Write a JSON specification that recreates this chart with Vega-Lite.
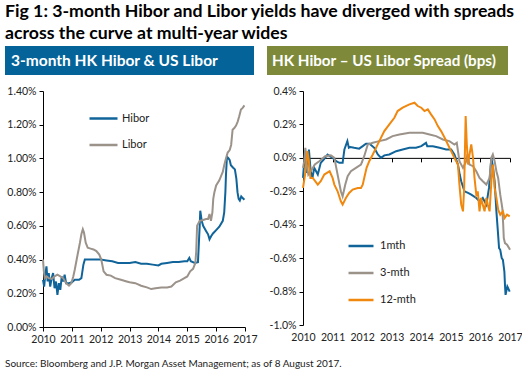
{
  "$schema": "https://vega.github.io/schema/vega-lite/v6.json",
  "padding": {"left": 5, "top": 3, "right": 4, "bottom": 2},
  "background": "white",
  "config": {
    "font": "Lato",
    "view": {"stroke": null},
    "axis": {"labelFont": "Lato", "labelFontSize": 10.5, "labelColor": "#222", "domainColor": "#000", "tickColor": "#000", "grid": false, "title": null, "tickSize": 4, "labelPadding": 3, "labelOverlap": false},
    "legend": {"labelFont": "Lato", "labelFontSize": 11, "labelColor": "#222"}
  },
  "title": {
    "text": ["Fig 1: 3-month Hibor and Libor yields have diverged with spreads", "across the curve at multi-year wides"],
    "anchor": "start", "frame": "bounds", "font": "Lato", "fontSize": 17.7, "fontWeight": "bold", "color": "#000", "lineHeight": 22, "offset": 3
  },
  "spacing": 14,
  "vconcat": [
    {
      "spacing": 11,
      "vconcat": [
        {
          "spacing": 13,
          "resolve": {"scale": {"x": "independent"}},
          "hconcat": [
            {
              "width": 211, "height": 29,
              "data": {"values": [{"label": "3-month HK Hibor & US Libor"}]},
              "layer": [
                {
                  "mark": {"type": "rect", "color": "#04649a"},
                  "encoding": {
                    "x": {"datum": -38, "type": "quantitative", "scale": {"domain": [0, 211], "nice": false, "zero": false}, "axis": null},
                    "x2": {"datum": 211},
                    "y": {"datum": 0, "type": "quantitative", "scale": {"domain": [0, 1], "nice": false}, "axis": null},
                    "y2": {"datum": 1}
                  }
                },
                {
                  "mark": {"type": "text", "align": "left", "baseline": "middle", "color": "white", "fontSize": 15.5, "fontWeight": "bold", "dx": 6},
                  "encoding": {
                    "x": {"datum": -38, "type": "quantitative"},
                    "y": {"datum": 0.5, "type": "quantitative"},
                    "text": {"field": "label"}
                  }
                }
              ]
            },
            {
              "width": 207, "height": 29,
              "data": {"values": [{"label": "HK Hibor – US Libor Spread (bps)"}]},
              "layer": [
                {
                  "mark": {"type": "rect", "color": "#7e8a3a"},
                  "encoding": {
                    "x": {"datum": -34, "type": "quantitative", "scale": {"domain": [0, 207], "nice": false, "zero": false}, "axis": null},
                    "x2": {"datum": 207},
                    "y": {"datum": 0, "type": "quantitative", "scale": {"domain": [0, 1], "nice": false}, "axis": null},
                    "y2": {"datum": 1}
                  }
                },
                {
                  "mark": {"type": "text", "align": "left", "baseline": "middle", "color": "white", "fontSize": 15.2, "fontWeight": "bold", "dx": 5},
                  "encoding": {
                    "x": {"datum": -34, "type": "quantitative"},
                    "y": {"datum": 0.5, "type": "quantitative"},
                    "text": {"field": "label"}
                  }
                }
              ]
            }
          ]
        },
        {
          "spacing": 11,
          "resolve": {"scale": {"color": "independent", "y": "independent", "x": "independent"}},
          "hconcat": [
            {
              "width": 202, "height": 236,
              "data": {"values": [
                {"t": 2010.0, "v": 0.28, "s": "Hibor"}, {"t": 2010.04, "v": 0.24, "s": "Hibor"}, {"t": 2010.08, "v": 0.31, "s": "Hibor"}, {"t": 2010.12, "v": 0.36, "s": "Hibor"}, {"t": 2010.16, "v": 0.27, "s": "Hibor"}, {"t": 2010.2, "v": 0.32, "s": "Hibor"}, {"t": 2010.25, "v": 0.24, "s": "Hibor"}, {"t": 2010.3, "v": 0.29, "s": "Hibor"}, {"t": 2010.35, "v": 0.32, "s": "Hibor"}, {"t": 2010.4, "v": 0.23, "s": "Hibor"}, {"t": 2010.45, "v": 0.27, "s": "Hibor"}, {"t": 2010.5, "v": 0.19, "s": "Hibor"}, {"t": 2010.55, "v": 0.26, "s": "Hibor"}, {"t": 2010.6, "v": 0.22, "s": "Hibor"}, {"t": 2010.65, "v": 0.3, "s": "Hibor"}, {"t": 2010.7, "v": 0.27, "s": "Hibor"}, {"t": 2010.75, "v": 0.31, "s": "Hibor"}, {"t": 2010.8, "v": 0.26, "s": "Hibor"}, {"t": 2010.9, "v": 0.26, "s": "Hibor"}, {"t": 2011.0, "v": 0.265, "s": "Hibor"}, {"t": 2011.1, "v": 0.28, "s": "Hibor"}, {"t": 2011.25, "v": 0.28, "s": "Hibor"}, {"t": 2011.33, "v": 0.29, "s": "Hibor"}, {"t": 2011.4, "v": 0.37, "s": "Hibor"}, {"t": 2011.45, "v": 0.4, "s": "Hibor"}, {"t": 2011.6, "v": 0.4, "s": "Hibor"}, {"t": 2011.8, "v": 0.4, "s": "Hibor"}, {"t": 2012.0, "v": 0.4, "s": "Hibor"}, {"t": 2012.2, "v": 0.395, "s": "Hibor"}, {"t": 2012.4, "v": 0.39, "s": "Hibor"}, {"t": 2012.6, "v": 0.38, "s": "Hibor"}, {"t": 2012.8, "v": 0.38, "s": "Hibor"}, {"t": 2013.0, "v": 0.38, "s": "Hibor"}, {"t": 2013.2, "v": 0.385, "s": "Hibor"}, {"t": 2013.4, "v": 0.375, "s": "Hibor"}, {"t": 2013.6, "v": 0.375, "s": "Hibor"}, {"t": 2013.8, "v": 0.37, "s": "Hibor"}, {"t": 2014.0, "v": 0.365, "s": "Hibor"}, {"t": 2014.1, "v": 0.375, "s": "Hibor"}, {"t": 2014.3, "v": 0.38, "s": "Hibor"}, {"t": 2014.5, "v": 0.385, "s": "Hibor"}, {"t": 2014.7, "v": 0.385, "s": "Hibor"}, {"t": 2014.9, "v": 0.39, "s": "Hibor"}, {"t": 2015.0, "v": 0.39, "s": "Hibor"}, {"t": 2015.07, "v": 0.41, "s": "Hibor"}, {"t": 2015.12, "v": 0.39, "s": "Hibor"}, {"t": 2015.26, "v": 0.38, "s": "Hibor"}, {"t": 2015.37, "v": 0.385, "s": "Hibor"}, {"t": 2015.43, "v": 0.6, "s": "Hibor"}, {"t": 2015.45, "v": 0.69, "s": "Hibor"}, {"t": 2015.5, "v": 0.63, "s": "Hibor"}, {"t": 2015.55, "v": 0.6, "s": "Hibor"}, {"t": 2015.65, "v": 0.57, "s": "Hibor"}, {"t": 2015.72, "v": 0.55, "s": "Hibor"}, {"t": 2015.77, "v": 0.52, "s": "Hibor"}, {"t": 2015.83, "v": 0.54, "s": "Hibor"}, {"t": 2015.89, "v": 0.555, "s": "Hibor"}, {"t": 2016.0, "v": 0.575, "s": "Hibor"}, {"t": 2016.11, "v": 0.595, "s": "Hibor"}, {"t": 2016.23, "v": 0.63, "s": "Hibor"}, {"t": 2016.28, "v": 0.68, "s": "Hibor"}, {"t": 2016.32, "v": 0.8, "s": "Hibor"}, {"t": 2016.34, "v": 0.9, "s": "Hibor"}, {"t": 2016.375, "v": 1.01, "s": "Hibor"}, {"t": 2016.43, "v": 1.0, "s": "Hibor"}, {"t": 2016.47, "v": 0.99, "s": "Hibor"}, {"t": 2016.51, "v": 0.96, "s": "Hibor"}, {"t": 2016.59, "v": 0.945, "s": "Hibor"}, {"t": 2016.65, "v": 0.935, "s": "Hibor"}, {"t": 2016.7, "v": 0.88, "s": "Hibor"}, {"t": 2016.74, "v": 0.8, "s": "Hibor"}, {"t": 2016.78, "v": 0.76, "s": "Hibor"}, {"t": 2016.82, "v": 0.75, "s": "Hibor"}, {"t": 2016.87, "v": 0.775, "s": "Hibor"}, {"t": 2016.92, "v": 0.765, "s": "Hibor"}, {"t": 2016.98, "v": 0.755, "s": "Hibor"},
                {"t": 2010.0, "v": 0.4, "s": "Libor"}, {"t": 2010.03, "v": 0.33, "s": "Libor"}, {"t": 2010.06, "v": 0.29, "s": "Libor"}, {"t": 2010.12, "v": 0.3, "s": "Libor"}, {"t": 2010.2, "v": 0.29, "s": "Libor"}, {"t": 2010.3, "v": 0.285, "s": "Libor"}, {"t": 2010.4, "v": 0.3, "s": "Libor"}, {"t": 2010.5, "v": 0.31, "s": "Libor"}, {"t": 2010.6, "v": 0.3, "s": "Libor"}, {"t": 2010.7, "v": 0.29, "s": "Libor"}, {"t": 2010.8, "v": 0.26, "s": "Libor"}, {"t": 2010.9, "v": 0.245, "s": "Libor"}, {"t": 2010.98, "v": 0.26, "s": "Libor"}, {"t": 2011.05, "v": 0.3, "s": "Libor"}, {"t": 2011.1, "v": 0.34, "s": "Libor"}, {"t": 2011.2, "v": 0.43, "s": "Libor"}, {"t": 2011.28, "v": 0.5, "s": "Libor"}, {"t": 2011.33, "v": 0.55, "s": "Libor"}, {"t": 2011.38, "v": 0.58, "s": "Libor"}, {"t": 2011.42, "v": 0.56, "s": "Libor"}, {"t": 2011.48, "v": 0.5, "s": "Libor"}, {"t": 2011.55, "v": 0.47, "s": "Libor"}, {"t": 2011.65, "v": 0.465, "s": "Libor"}, {"t": 2011.75, "v": 0.46, "s": "Libor"}, {"t": 2011.85, "v": 0.45, "s": "Libor"}, {"t": 2011.95, "v": 0.43, "s": "Libor"}, {"t": 2012.02, "v": 0.4, "s": "Libor"}, {"t": 2012.1, "v": 0.33, "s": "Libor"}, {"t": 2012.2, "v": 0.31, "s": "Libor"}, {"t": 2012.35, "v": 0.305, "s": "Libor"}, {"t": 2012.5, "v": 0.29, "s": "Libor"}, {"t": 2012.7, "v": 0.28, "s": "Libor"}, {"t": 2012.9, "v": 0.27, "s": "Libor"}, {"t": 2013.0, "v": 0.265, "s": "Libor"}, {"t": 2013.2, "v": 0.26, "s": "Libor"}, {"t": 2013.4, "v": 0.245, "s": "Libor"}, {"t": 2013.6, "v": 0.235, "s": "Libor"}, {"t": 2013.75, "v": 0.225, "s": "Libor"}, {"t": 2013.9, "v": 0.23, "s": "Libor"}, {"t": 2014.1, "v": 0.235, "s": "Libor"}, {"t": 2014.3, "v": 0.235, "s": "Libor"}, {"t": 2014.45, "v": 0.24, "s": "Libor"}, {"t": 2014.6, "v": 0.265, "s": "Libor"}, {"t": 2014.75, "v": 0.275, "s": "Libor"}, {"t": 2014.9, "v": 0.29, "s": "Libor"}, {"t": 2015.0, "v": 0.3, "s": "Libor"}, {"t": 2015.1, "v": 0.33, "s": "Libor"}, {"t": 2015.2, "v": 0.345, "s": "Libor"}, {"t": 2015.28, "v": 0.38, "s": "Libor"}, {"t": 2015.31, "v": 0.45, "s": "Libor"}, {"t": 2015.34, "v": 0.6, "s": "Libor"}, {"t": 2015.43, "v": 0.63, "s": "Libor"}, {"t": 2015.55, "v": 0.635, "s": "Libor"}, {"t": 2015.65, "v": 0.64, "s": "Libor"}, {"t": 2015.72, "v": 0.64, "s": "Libor"}, {"t": 2015.77, "v": 0.67, "s": "Libor"}, {"t": 2015.82, "v": 0.63, "s": "Libor"}, {"t": 2015.87, "v": 0.68, "s": "Libor"}, {"t": 2015.9, "v": 0.76, "s": "Libor"}, {"t": 2015.94, "v": 0.8, "s": "Libor"}, {"t": 2016.0, "v": 0.84, "s": "Libor"}, {"t": 2016.11, "v": 0.87, "s": "Libor"}, {"t": 2016.18, "v": 0.9, "s": "Libor"}, {"t": 2016.23, "v": 0.92, "s": "Libor"}, {"t": 2016.28, "v": 0.96, "s": "Libor"}, {"t": 2016.34, "v": 1.0, "s": "Libor"}, {"t": 2016.4, "v": 1.035, "s": "Libor"}, {"t": 2016.47, "v": 1.05, "s": "Libor"}, {"t": 2016.52, "v": 1.08, "s": "Libor"}, {"t": 2016.57, "v": 1.17, "s": "Libor"}, {"t": 2016.63, "v": 1.18, "s": "Libor"}, {"t": 2016.69, "v": 1.195, "s": "Libor"}, {"t": 2016.75, "v": 1.22, "s": "Libor"}, {"t": 2016.8, "v": 1.25, "s": "Libor"}, {"t": 2016.86, "v": 1.29, "s": "Libor"}, {"t": 2016.92, "v": 1.3, "s": "Libor"}, {"t": 2016.98, "v": 1.315, "s": "Libor"}
              ]},
              "mark": {"type": "line", "strokeWidth": 2},
              "encoding": {
                "x": {"field": "t", "type": "quantitative", "scale": {"domain": [2010, 2017], "nice": false, "zero": false},
                      "axis": {"values": [2010, 2011, 2012, 2013, 2014, 2015, 2016, 2017], "format": "d", "labelFlush": false}},
                "y": {"field": "v", "type": "quantitative", "scale": {"domain": [0, 1.4], "nice": false},
                      "axis": {"values": [0, 0.2, 0.4, 0.6, 0.8, 1.0, 1.2, 1.4], "labelExpr": "format(datum.value / 100, '.2%')", "minExtent": 38}},
                "color": {"field": "s", "type": "nominal",
                          "scale": {"domain": ["Hibor", "Libor"], "range": ["#10649a", "#9b928a"]},
                          "legend": {"orient": "none", "legendX": 45, "legendY": 12, "title": null, "symbolType": "stroke", "symbolSize": 784, "symbolStrokeWidth": 2.5, "rowPadding": 5.5, "labelOffset": 3}}
              }
            },
            {
              "width": 207, "height": 234,
              "data": {"values": [
                {"t": 2010.0, "v": -0.12, "s": "1mth"}, {"t": 2010.03, "v": -0.05, "s": "1mth"}, {"t": 2010.08, "v": 0.02, "s": "1mth"}, {"t": 2010.12, "v": -0.09, "s": "1mth"}, {"t": 2010.17, "v": -0.03, "s": "1mth"}, {"t": 2010.2, "v": 0.05, "s": "1mth"}, {"t": 2010.26, "v": -0.08, "s": "1mth"}, {"t": 2010.32, "v": -0.12, "s": "1mth"}, {"t": 2010.38, "v": -0.06, "s": "1mth"}, {"t": 2010.5, "v": -0.1, "s": "1mth"}, {"t": 2010.6, "v": -0.03, "s": "1mth"}, {"t": 2010.7, "v": -0.01, "s": "1mth"}, {"t": 2010.83, "v": 0.02, "s": "1mth"}, {"t": 2011.0, "v": 0.0, "s": "1mth"}, {"t": 2011.12, "v": -0.02, "s": "1mth"}, {"t": 2011.23, "v": -0.03, "s": "1mth"}, {"t": 2011.34, "v": -0.03, "s": "1mth"}, {"t": 2011.4, "v": 0.05, "s": "1mth"}, {"t": 2011.5, "v": 0.1, "s": "1mth"}, {"t": 2011.55, "v": 0.06, "s": "1mth"}, {"t": 2011.6, "v": 0.065, "s": "1mth"}, {"t": 2011.73, "v": 0.06, "s": "1mth"}, {"t": 2011.9, "v": 0.055, "s": "1mth"}, {"t": 2012.02, "v": 0.07, "s": "1mth"}, {"t": 2012.13, "v": 0.085, "s": "1mth"}, {"t": 2012.25, "v": 0.085, "s": "1mth"}, {"t": 2012.41, "v": 0.06, "s": "1mth"}, {"t": 2012.53, "v": 0.02, "s": "1mth"}, {"t": 2012.64, "v": 0.0, "s": "1mth"}, {"t": 2012.75, "v": 0.015, "s": "1mth"}, {"t": 2012.92, "v": 0.02, "s": "1mth"}, {"t": 2013.15, "v": 0.04, "s": "1mth"}, {"t": 2013.37, "v": 0.05, "s": "1mth"}, {"t": 2013.6, "v": 0.06, "s": "1mth"}, {"t": 2013.82, "v": 0.06, "s": "1mth"}, {"t": 2014.0, "v": 0.07, "s": "1mth"}, {"t": 2014.16, "v": 0.09, "s": "1mth"}, {"t": 2014.2, "v": 0.07, "s": "1mth"}, {"t": 2014.39, "v": 0.07, "s": "1mth"}, {"t": 2014.62, "v": 0.06, "s": "1mth"}, {"t": 2014.84, "v": 0.05, "s": "1mth"}, {"t": 2015.01, "v": 0.05, "s": "1mth"}, {"t": 2015.12, "v": 0.02, "s": "1mth"}, {"t": 2015.24, "v": -0.04, "s": "1mth"}, {"t": 2015.3, "v": -0.1, "s": "1mth"}, {"t": 2015.35, "v": -0.14, "s": "1mth"}, {"t": 2015.46, "v": -0.2, "s": "1mth"}, {"t": 2015.58, "v": -0.21, "s": "1mth"}, {"t": 2015.69, "v": -0.22, "s": "1mth"}, {"t": 2015.86, "v": -0.24, "s": "1mth"}, {"t": 2015.97, "v": -0.26, "s": "1mth"}, {"t": 2016.08, "v": -0.24, "s": "1mth"}, {"t": 2016.2, "v": -0.28, "s": "1mth"}, {"t": 2016.29, "v": -0.18, "s": "1mth"}, {"t": 2016.37, "v": 0.0, "s": "1mth"}, {"t": 2016.42, "v": -0.05, "s": "1mth"}, {"t": 2016.48, "v": -0.14, "s": "1mth"}, {"t": 2016.54, "v": -0.32, "s": "1mth"}, {"t": 2016.59, "v": -0.44, "s": "1mth"}, {"t": 2016.63, "v": -0.54, "s": "1mth"}, {"t": 2016.67, "v": -0.55, "s": "1mth"}, {"t": 2016.72, "v": -0.6, "s": "1mth"}, {"t": 2016.76, "v": -0.61, "s": "1mth"}, {"t": 2016.81, "v": -0.68, "s": "1mth"}, {"t": 2016.83, "v": -0.76, "s": "1mth"}, {"t": 2016.85, "v": -0.82, "s": "1mth"}, {"t": 2016.91, "v": -0.77, "s": "1mth"}, {"t": 2016.99, "v": -0.8, "s": "1mth"},
                {"t": 2010.0, "v": -0.06, "s": "3-mth"}, {"t": 2010.04, "v": -0.02, "s": "3-mth"}, {"t": 2010.08, "v": 0.06, "s": "3-mth"}, {"t": 2010.13, "v": -0.04, "s": "3-mth"}, {"t": 2010.18, "v": -0.1, "s": "3-mth"}, {"t": 2010.3, "v": -0.07, "s": "3-mth"}, {"t": 2010.4, "v": -0.04, "s": "3-mth"}, {"t": 2010.55, "v": -0.02, "s": "3-mth"}, {"t": 2010.75, "v": 0.01, "s": "3-mth"}, {"t": 2010.94, "v": 0.015, "s": "3-mth"}, {"t": 2011.06, "v": 0.0, "s": "3-mth"}, {"t": 2011.17, "v": -0.1, "s": "3-mth"}, {"t": 2011.28, "v": -0.2, "s": "3-mth"}, {"t": 2011.34, "v": -0.23, "s": "3-mth"}, {"t": 2011.43, "v": -0.16, "s": "3-mth"}, {"t": 2011.51, "v": -0.11, "s": "3-mth"}, {"t": 2011.62, "v": -0.08, "s": "3-mth"}, {"t": 2011.79, "v": -0.06, "s": "3-mth"}, {"t": 2011.96, "v": -0.04, "s": "3-mth"}, {"t": 2012.07, "v": 0.01, "s": "3-mth"}, {"t": 2012.19, "v": 0.08, "s": "3-mth"}, {"t": 2012.36, "v": 0.09, "s": "3-mth"}, {"t": 2012.58, "v": 0.1, "s": "3-mth"}, {"t": 2012.81, "v": 0.11, "s": "3-mth"}, {"t": 2013.03, "v": 0.13, "s": "3-mth"}, {"t": 2013.26, "v": 0.14, "s": "3-mth"}, {"t": 2013.6, "v": 0.15, "s": "3-mth"}, {"t": 2013.82, "v": 0.15, "s": "3-mth"}, {"t": 2014.05, "v": 0.15, "s": "3-mth"}, {"t": 2014.28, "v": 0.14, "s": "3-mth"}, {"t": 2014.5, "v": 0.13, "s": "3-mth"}, {"t": 2014.73, "v": 0.11, "s": "3-mth"}, {"t": 2014.95, "v": 0.1, "s": "3-mth"}, {"t": 2015.12, "v": 0.08, "s": "3-mth"}, {"t": 2015.2, "v": 0.09, "s": "3-mth"}, {"t": 2015.29, "v": -0.02, "s": "3-mth"}, {"t": 2015.41, "v": -0.06, "s": "3-mth"}, {"t": 2015.52, "v": -0.02, "s": "3-mth"}, {"t": 2015.56, "v": 0.02, "s": "3-mth"}, {"t": 2015.63, "v": -0.04, "s": "3-mth"}, {"t": 2015.75, "v": -0.05, "s": "3-mth"}, {"t": 2015.86, "v": -0.08, "s": "3-mth"}, {"t": 2015.97, "v": -0.12, "s": "3-mth"}, {"t": 2016.08, "v": -0.14, "s": "3-mth"}, {"t": 2016.2, "v": -0.16, "s": "3-mth"}, {"t": 2016.31, "v": -0.12, "s": "3-mth"}, {"t": 2016.37, "v": 0.0, "s": "3-mth"}, {"t": 2016.42, "v": 0.02, "s": "3-mth"}, {"t": 2016.48, "v": -0.02, "s": "3-mth"}, {"t": 2016.54, "v": -0.08, "s": "3-mth"}, {"t": 2016.6, "v": -0.12, "s": "3-mth"}, {"t": 2016.67, "v": -0.22, "s": "3-mth"}, {"t": 2016.74, "v": -0.3, "s": "3-mth"}, {"t": 2016.77, "v": -0.4, "s": "3-mth"}, {"t": 2016.79, "v": -0.48, "s": "3-mth"}, {"t": 2016.83, "v": -0.51, "s": "3-mth"}, {"t": 2016.9, "v": -0.52, "s": "3-mth"}, {"t": 2016.97, "v": -0.54, "s": "3-mth"}, {"t": 2017.0, "v": -0.55, "s": "3-mth"},
                {"t": 2010.0, "v": -0.18, "s": "12-mth"}, {"t": 2010.07, "v": -0.1, "s": "12-mth"}, {"t": 2010.15, "v": 0.04, "s": "12-mth"}, {"t": 2010.2, "v": -0.02, "s": "12-mth"}, {"t": 2010.25, "v": -0.12, "s": "12-mth"}, {"t": 2010.33, "v": -0.12, "s": "12-mth"}, {"t": 2010.5, "v": -0.16, "s": "12-mth"}, {"t": 2010.6, "v": -0.14, "s": "12-mth"}, {"t": 2010.72, "v": -0.1, "s": "12-mth"}, {"t": 2010.9, "v": -0.08, "s": "12-mth"}, {"t": 2011.0, "v": -0.12, "s": "12-mth"}, {"t": 2011.06, "v": -0.16, "s": "12-mth"}, {"t": 2011.17, "v": -0.2, "s": "12-mth"}, {"t": 2011.28, "v": -0.26, "s": "12-mth"}, {"t": 2011.34, "v": -0.28, "s": "12-mth"}, {"t": 2011.45, "v": -0.24, "s": "12-mth"}, {"t": 2011.56, "v": -0.21, "s": "12-mth"}, {"t": 2011.68, "v": -0.19, "s": "12-mth"}, {"t": 2011.85, "v": -0.18, "s": "12-mth"}, {"t": 2011.96, "v": -0.18, "s": "12-mth"}, {"t": 2012.02, "v": -0.16, "s": "12-mth"}, {"t": 2012.07, "v": -0.12, "s": "12-mth"}, {"t": 2012.15, "v": -0.06, "s": "12-mth"}, {"t": 2012.24, "v": -0.02, "s": "12-mth"}, {"t": 2012.36, "v": 0.02, "s": "12-mth"}, {"t": 2012.47, "v": 0.06, "s": "12-mth"}, {"t": 2012.58, "v": 0.1, "s": "12-mth"}, {"t": 2012.75, "v": 0.16, "s": "12-mth"}, {"t": 2012.92, "v": 0.2, "s": "12-mth"}, {"t": 2013.09, "v": 0.24, "s": "12-mth"}, {"t": 2013.2, "v": 0.28, "s": "12-mth"}, {"t": 2013.37, "v": 0.3, "s": "12-mth"}, {"t": 2013.6, "v": 0.32, "s": "12-mth"}, {"t": 2013.77, "v": 0.33, "s": "12-mth"}, {"t": 2013.88, "v": 0.31, "s": "12-mth"}, {"t": 2014.0, "v": 0.3, "s": "12-mth"}, {"t": 2014.11, "v": 0.28, "s": "12-mth"}, {"t": 2014.22, "v": 0.29, "s": "12-mth"}, {"t": 2014.33, "v": 0.26, "s": "12-mth"}, {"t": 2014.45, "v": 0.23, "s": "12-mth"}, {"t": 2014.56, "v": 0.19, "s": "12-mth"}, {"t": 2014.67, "v": 0.16, "s": "12-mth"}, {"t": 2014.79, "v": 0.12, "s": "12-mth"}, {"t": 2014.9, "v": 0.08, "s": "12-mth"}, {"t": 2015.01, "v": 0.04, "s": "12-mth"}, {"t": 2015.12, "v": 0.0, "s": "12-mth"}, {"t": 2015.24, "v": -0.04, "s": "12-mth"}, {"t": 2015.29, "v": -0.16, "s": "12-mth"}, {"t": 2015.35, "v": -0.28, "s": "12-mth"}, {"t": 2015.41, "v": -0.32, "s": "12-mth"}, {"t": 2015.45, "v": -0.18, "s": "12-mth"}, {"t": 2015.5, "v": 0.25, "s": "12-mth"}, {"t": 2015.54, "v": 0.08, "s": "12-mth"}, {"t": 2015.58, "v": -0.04, "s": "12-mth"}, {"t": 2015.63, "v": 0.02, "s": "12-mth"}, {"t": 2015.69, "v": 0.08, "s": "12-mth"}, {"t": 2015.75, "v": 0.0, "s": "12-mth"}, {"t": 2015.8, "v": -0.12, "s": "12-mth"}, {"t": 2015.86, "v": -0.22, "s": "12-mth"}, {"t": 2015.91, "v": -0.2, "s": "12-mth"}, {"t": 2015.97, "v": -0.32, "s": "12-mth"}, {"t": 2016.02, "v": -0.24, "s": "12-mth"}, {"t": 2016.08, "v": -0.28, "s": "12-mth"}, {"t": 2016.14, "v": -0.32, "s": "12-mth"}, {"t": 2016.2, "v": -0.24, "s": "12-mth"}, {"t": 2016.25, "v": -0.28, "s": "12-mth"}, {"t": 2016.31, "v": -0.32, "s": "12-mth"}, {"t": 2016.37, "v": -0.14, "s": "12-mth"}, {"t": 2016.42, "v": -0.04, "s": "12-mth"}, {"t": 2016.48, "v": -0.18, "s": "12-mth"}, {"t": 2016.54, "v": -0.24, "s": "12-mth"}, {"t": 2016.6, "v": -0.31, "s": "12-mth"}, {"t": 2016.67, "v": -0.34, "s": "12-mth"}, {"t": 2016.76, "v": -0.32, "s": "12-mth"}, {"t": 2016.82, "v": -0.36, "s": "12-mth"}, {"t": 2016.9, "v": -0.34, "s": "12-mth"}, {"t": 2016.99, "v": -0.35, "s": "12-mth"}
              ]},
              "resolve": {"axis": {"x": "independent"}},
              "layer": [
                {
                  "mark": {"type": "line", "strokeWidth": 2},
                  "encoding": {
                    "x": {"field": "t", "type": "quantitative", "scale": {"domain": [2010, 2017], "nice": false, "zero": false},
                          "axis": {"values": [2010, 2011, 2012, 2013, 2014, 2015, 2016, 2017], "format": "d", "labelFlush": false, "domain": false, "ticks": false, "labelPadding": 7}},
                    "y": {"field": "v", "type": "quantitative", "scale": {"domain": [-1.0, 0.4], "nice": false, "zero": false},
                          "axis": {"values": [-1.0, -0.8, -0.6, -0.4, -0.2, 0, 0.2, 0.4], "labelExpr": "replace(format(datum.value / 100, '.1%'), '\u2212', '-')", "minExtent": 34}},
                    "color": {"field": "s", "type": "nominal",
                              "scale": {"domain": ["1mth", "3-mth", "12-mth"], "range": ["#10649a", "#9b928a", "#f0880f"]},
                              "legend": {"orient": "none", "legendX": 44, "legendY": 141, "title": null, "symbolType": "stroke", "symbolSize": 625, "symbolStrokeWidth": 2.5, "rowPadding": 8, "labelOffset": 5}}
                  }
                },
                {
                  "mark": {"type": "line", "opacity": 0},
                  "encoding": {
                    "x": {"field": "t", "type": "quantitative",
                          "axis": {"orient": "bottom", "offset": -167.14, "values": [2010, 2011, 2012, 2013, 2014, 2015, 2016, 2017], "labels": false, "domain": true, "ticks": true, "tickSize": 4}},
                    "detail": {"field": "s", "type": "nominal"}
                  }
                }
              ]
            }
          ]
        }
      ]
    },
    {
      "width": 300, "height": 10,
      "data": {"values": [{"label": "Source: Bloomberg and J.P. Morgan Asset Management; as of 8 August 2017."}]},
      "mark": {"type": "text", "align": "left", "baseline": "middle", "fontSize": 10, "color": "#222"},
      "encoding": {
        "x": {"datum": -38, "type": "quantitative", "scale": {"domain": [0, 300], "nice": false, "zero": false}, "axis": null},
        "y": {"datum": 0.5, "type": "quantitative", "scale": {"domain": [0, 1]}, "axis": null},
        "text": {"field": "label"}
      }
    }
  ]
}
